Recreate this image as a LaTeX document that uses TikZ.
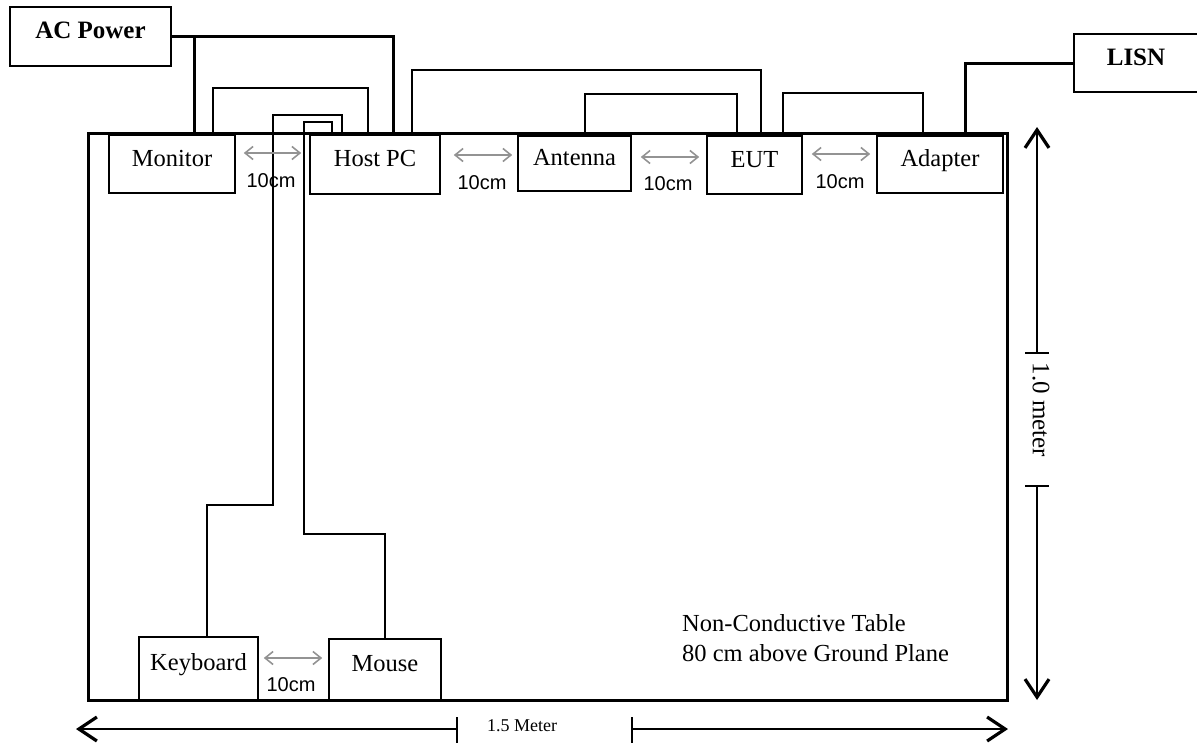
\documentclass[tikz,border=0pt]{standalone}
\usepackage{fontspec}
\setmainfont{Liberation Serif}
\newfontfamily\arialf{Liberation Sans}
\usetikzlibrary{arrows.meta}
\begin{document}
\begin{tikzpicture}[x=1pt,y=-1pt,
  dev/.style={draw, line width=1.6pt, inner sep=0pt, fill=white,
    font=\fontsize{24.5}{28}\selectfont, text height=0.68em, text depth=0.22em},
  srcbox/.style={dev, font=\bfseries\fontsize{25}{28}\selectfont},
  cable/.style={line width=1.5pt},
  power/.style={line width=3pt},
  gap/.style={draw=gray!85, line width=1.6pt,
    {Straight Barb[length=8pt,width=13pt]}-{Straight Barb[length=8pt,width=13pt]}},
  gaplbl/.style={font=\arialf\fontsize{20}{24}\selectfont, inner sep=0pt},
  dim/.style={line width=2pt, -{Straight Barb[length=18pt,width=24pt,line width=3.2pt]}},
  tick/.style={line width=1.6pt},
  note/.style={font=\fontsize{24.5}{30}\selectfont, align=left, inner sep=0pt}]
\useasboundingbox (0,0) rectangle (1197,742);
\clip (0,0) rectangle (1197,742);
\fill[white] (0,0) rectangle (1197,742);

% table
\draw[line width=3pt] (88,133) rectangle (1007,700);

% devices
\node[dev, minimum width=126pt, minimum height=58pt] (mon) at (172,164) {Monitor};
\node[dev, minimum width=130pt, minimum height=59pt] (host) at (375,164.5) {Host PC};
\node[dev, minimum width=113pt, minimum height=55pt] (ant) at (574.5,163.5) {Antenna};
\node[dev, minimum width=95pt, minimum height=58pt] (eut) at (754.5,165) {EUT};
\node[dev, minimum width=126pt, minimum height=57pt] (adp) at (940,164.5) {Adapter};
\node[dev, minimum width=119pt, minimum height=63pt] (kb) at (198.5,668.5) {Keyboard};
\node[dev, minimum width=112pt, minimum height=61pt] (mouse) at (385,669.5) {Mouse};
\node[srcbox, minimum width=161pt, minimum height=59pt] (ac) at (90.5,36.5) {AC Power};
\node[srcbox, minimum width=124pt, minimum height=58pt] (lisn) at (1136,63) {LISN};

% power cables
\draw[power] (ac.east) -| (host.north -| 393,0);
\coordinate (j1) at (194,36.5);
\draw[power] (j1) -- (mon.north -| 194,0);
\draw[power] (adp.north -| 965,0) |- (lisn.west);

% signal cables
\draw[cable] (mon.north -| 213,0) -- (213,88) -- (368,88) -- (host.north -| 368,0);
\draw[cable] (host.north -| 342,0) -- (342,115) -- (273,115) -- (273,505) -- (207,505) -- (kb.north -| 207,0);
\draw[cable] (host.north -| 332,0) -- (332,122) -- (304,122) -- (304,534) -- (385,534) -- (mouse.north);
\draw[cable] (host.north -| 412,0) -- (412,70) -- (761,70) -- (eut.north -| 761,0);
\draw[cable] (ant.north -| 585,0) -- (585,94) -- (737,94) -- (eut.north -| 737,0);
\draw[cable] (eut.north -| 783,0) -- (783,93) -- (923,93) -- (adp.north -| 923,0);

% spacing arrows
\draw[gap, shorten <=8pt, shorten >=8pt] (mon.east |- 0,153) -- (host.west |- 0,153);
\draw[gap, shorten <=13pt, shorten >=5pt] (host.east |- 0,155) -- (ant.west |- 0,155);
\draw[gap, shorten <=9pt, shorten >=7pt] (ant.east |- 0,157) -- (eut.west |- 0,157);
\draw[gap, shorten <=9pt, shorten >=6pt] (eut.east |- 0,154) -- (adp.west |- 0,154);
\draw[gap, shorten <=5pt, shorten >=6pt] (kb.east |- 0,658) -- (mouse.west |- 0,658);
\node[gaplbl] (l1) at (271,181) {10cm};
\node[gaplbl] (l2) at (482,183) {10cm};
\node[gaplbl] (l3) at (668,184) {10cm};
\node[gaplbl] (l4) at (840,182) {10cm};
\node[gaplbl] (l5) at (291,685) {10cm};

% notes
\node[note, anchor=west] (nt) at (682,638) {Non-Conductive Table\\80 cm above Ground Plane};

% vertical dimension
\coordinate (vt1) at (1037,353);
\coordinate (vt2) at (1037,486);
\draw[dim] (vt1) -- (1037,127);
\draw[dim] (vt2) -- (1037,700);
\draw[tick] (1025,353) -- (1049,353);
\draw[tick] (1025,486) -- (1049,486);
\node[font=\fontsize{25}{28}\selectfont, rotate=-90, inner sep=0pt] (vl) at (1041,410) {1.0 meter};

% horizontal dimension
\coordinate (ht1) at (457,729);
\coordinate (ht2) at (632,729);
\draw[dim] (ht1) -- (76,729);
\draw[dim] (ht2) -- (1008,729);
\draw[tick] (457,717) -- (457,745);
\draw[tick] (632,717) -- (632,745);
\node[font=\fontsize{18}{20}\selectfont, inner sep=0pt, anchor=west] (hl) at (487,726) {1.5 Meter};
\end{tikzpicture}
\end{document}
